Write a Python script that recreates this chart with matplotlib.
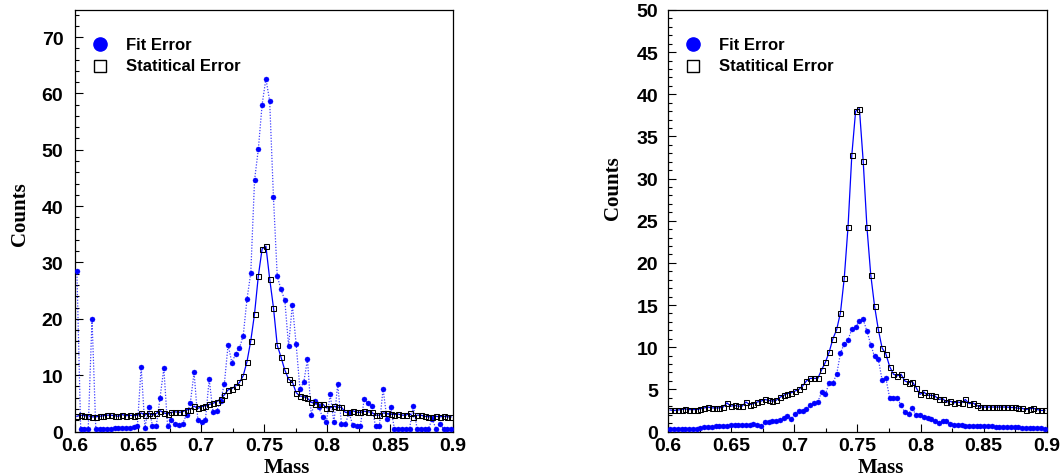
import numpy as np
import matplotlib
matplotlib.use("Agg")
import matplotlib.pyplot as plt
from matplotlib.ticker import MultipleLocator

# ---- data ----
mass_min, mass_max, n_bins = 0.6, 0.9, 100

left_fit = [28.5, 0.5, 0.5, 0.5, 20.0, 0.5, 0.5, 0.5, 0.5, 0.5,
            0.6, 0.6, 0.6, 0.7, 0.7, 0.8, 0.9, 11.5, 0.7, 4.3,
            1.0, 1.0, 6.0, 11.2, 0.9, 2.0, 1.4, 1.1, 1.4, 3.0,
            5.0, 10.5, 2.0, 1.7, 2.0, 9.3, 3.5, 3.6, 5.5, 8.4,
            15.4, 12.2, 13.8, 14.8, 17.0, 23.5, 28.1, 44.6, 50.1, 58.0,
            62.6, 58.7, 41.6, 27.6, 25.2, 23.3, 15.2, 22.5, 15.5, 7.6,
            8.7, 12.8, 3.0, 5.4, 4.3, 2.5, 1.6, 6.6, 1.6, 8.4,
            1.3, 1.3, 3.3, 1.1, 1.0, 1.0, 5.7, 5.0, 4.6, 0.9,
            0.9, 7.6, 2.3, 4.3, 0.5, 0.5, 0.5, 0.5, 0.5, 4.5,
            0.5, 0.5, 0.5, 0.5, 2.2, 0.5, 1.3, 0.5, 0.4, 0.4]

left_stat = [2.7, 2.9, 2.8, 2.8, 2.6, 2.6, 2.7, 2.8, 2.9, 2.9,
             2.8, 2.7, 3.0, 2.8, 2.9, 2.8, 2.9, 3.3, 2.9, 3.3,
             2.9, 3.2, 3.7, 3.3, 3.1, 3.4, 3.5, 3.4, 3.5, 3.9,
             3.9, 4.5, 4.1, 4.4, 4.6, 4.8, 5.0, 5.3, 5.8, 6.5,
             7.4, 7.6, 8.1, 8.7, 9.9, 12.4, 16.1, 20.9, 27.6, 32.4,
             32.9, 27.1, 22.0, 15.3, 13.2, 10.9, 9.3, 8.8, 6.9, 6.3,
             6.2, 5.9, 5.2, 4.9, 4.8, 4.9, 4.2, 4.2, 4.5, 4.3,
             4.3, 3.4, 3.4, 3.7, 3.4, 3.4, 3.6, 3.5, 3.4, 2.9,
             2.9, 3.3, 3.2, 3.1, 3.0, 3.1, 2.9, 2.9, 3.2, 2.6,
             2.9, 2.9, 2.7, 2.6, 2.6, 2.7, 2.6, 2.7, 2.6, 2.6]

right_fit = [0.3, 0.3, 0.35, 0.3, 0.35, 0.3, 0.3, 0.25, 0.45, 0.5,
             0.5, 0.55, 0.6, 0.65, 0.65, 0.7, 0.75, 0.75, 0.8, 0.8,
             0.8, 0.8, 0.85, 0.8, 0.65, 1.1, 1.1, 1.2, 1.3, 1.4,
             1.6, 1.8, 1.5, 2.1, 2.4, 2.4, 2.7, 3.1, 3.4, 3.5,
             4.65, 4.4, 5.75, 5.8, 6.8, 9.3, 10.4, 10.9, 12.1, 12.4,
             13.1, 13.3, 11.9, 10.3, 8.9, 8.6, 6.1, 6.3, 4.0, 4.0,
             4.0, 3.1, 2.3, 2.1, 2.75, 1.9, 1.9, 1.7, 1.6, 1.5,
             1.2, 1.0, 1.3, 1.2, 0.9, 0.8, 0.75, 0.75, 0.7, 0.7,
             0.7, 0.65, 0.65, 0.6, 0.6, 0.6, 0.55, 0.55, 0.55, 0.5,
             0.5, 0.5, 0.5, 0.45, 0.45, 0.45, 0.4, 0.4, 0.4, 0.35]

right_stat = [2.55, 2.5, 2.55, 2.6, 2.7, 2.6, 2.6, 2.6, 2.7, 2.8,
              2.9, 2.8, 2.8, 2.8, 2.9, 3.4, 3.0, 3.1, 3.0, 3.0,
              3.5, 3.2, 3.3, 3.5, 3.6, 3.8, 3.7, 3.6, 3.7, 4.05,
              4.3, 4.5, 4.6, 4.8, 5.0, 5.4, 6.0, 6.3, 6.3, 6.3,
              7.3, 8.2, 9.4, 11.0, 12.1, 14.1, 18.2, 24.3, 32.8, 38.0,
              38.3, 32.1, 24.2, 18.6, 14.9, 12.1, 9.9, 9.2, 7.7, 6.8,
              6.6, 6.8, 6.0, 5.8, 5.9, 5.2, 4.4, 4.7, 4.3, 4.3,
              4.2, 3.8, 3.9, 3.5, 3.6, 3.4, 3.5, 3.4, 3.8, 3.3,
              3.4, 3.1, 2.9, 2.9, 2.9, 2.9, 2.9, 2.9, 2.9, 2.9,
              2.85, 2.85, 2.75, 2.75, 2.6, 2.7, 2.75, 2.6, 2.5, 2.5]

left_yticks = [0, 10, 20, 30, 40, 50, 60, 70]
right_yticks = [0, 5, 10, 15, 20, 25, 30, 35, 40, 45, 50]
x_ticks = [0.6, 0.65, 0.7, 0.75, 0.8, 0.85, 0.9]
x_tick_labels = ["0.6", "0.65", "0.7", "0.75", "0.8", "0.85", "0.9"]
legend_labels = ["Fit Error", "Statitical Error"]
x_title = "Mass"
y_title = "Counts"

# ---- figure ----
W, H = 1060, 477
fig = plt.figure(figsize=(W / 100, H / 100), dpi=100)

edges = np.linspace(mass_min, mass_max, n_bins + 1)
centers = 0.5 * (edges[:-1] + edges[1:])

SANS = "Liberation Sans"
SERIF = "Liberation Serif"
BLUE = "#0000ff"


def fx(px):
    return px / W


def fy(py):
    return 1 - py / H


def make_panel(rect, fit, stat, ymax, yticks, ymajor, yminor, ypad,
               leg_x, ylab_x, ylab_y, xlab_x):
    ax = fig.add_axes(rect)
    ax.plot(centers, stat, color=BLUE, lw=0.9, zorder=2)
    ax.plot(centers, fit, color=BLUE, lw=0.9, ls=(0, (1, 1.3)),
            alpha=0.75, zorder=3)
    ax.plot(centers, fit, ls="none", marker="o", ms=3.6, mfc=BLUE,
            mec=BLUE, mew=0.3, zorder=4)
    ax.plot(centers, stat, ls="none", marker="s", ms=3.6, mfc="none",
            mec="black", mew=0.75, zorder=5)
    ax.set_xlim(mass_min, mass_max)
    ax.set_ylim(0, ymax)
    ax.set_xticks(x_ticks)
    ax.set_xticklabels(x_tick_labels)
    ax.set_yticks(yticks)
    ax.xaxis.set_minor_locator(MultipleLocator(0.025))
    ax.yaxis.set_minor_locator(MultipleLocator(yminor))
    ax.tick_params(which="both", direction="in", top=False, right=False)
    ax.tick_params(which="major", length=6, width=0.8)
    ax.tick_params(which="minor", length=3.2, width=0.8)
    ax.tick_params(axis="y", pad=ypad)
    ax.tick_params(axis="x", pad=4)
    for lab in ax.get_xticklabels() + ax.get_yticklabels():
        lab.set_fontfamily(SANS)
        lab.set_fontweight("bold")
        lab.set_fontsize(14)
    for s in ax.spines.values():
        s.set_linewidth(0.9)
        s.set_color("black")

    # legend (manual, ROOT-like)
    fig.lines.append(plt.Line2D([fx(leg_x)], [fy(45)], transform=fig.transFigure,
                                marker="o", ms=9.5, mfc=BLUE, mec=BLUE, ls="none"))
    fig.lines.append(plt.Line2D([fx(leg_x)], [fy(66.7)], transform=fig.transFigure,
                                marker="s", ms=9.0, mfc="white", mec="black",
                                mew=1.0, ls="none"))
    fig.text(fx(leg_x + 25.5), fy(45), legend_labels[0], family=SANS,
             weight="bold", fontsize=12, ha="left", va="center")
    fig.text(fx(leg_x + 25.5), fy(66.7), legend_labels[1], family=SANS,
             weight="bold", fontsize=12, ha="left", va="center")

    fig.text(fx(xlab_x), fy(473), x_title, family=SERIF, weight="bold",
             fontsize=15, ha="left", va="baseline")
    fig.text(fx(ylab_x), fy(ylab_y), y_title, family=SERIF, weight="bold",
             fontsize=15, ha="left", va="baseline", rotation=90,
             rotation_mode="anchor")
    return ax


bottom = fy(432.5)
height = (432.5 - 11) / H
make_panel([fx(75), bottom, 378 / W, height], left_fit, left_stat, 74.8,
           left_yticks, 10, 2, 8.4, 100, 25, 246, 264)
make_panel([fx(668.3), bottom, 378.4 / W, height], right_fit, right_stat, 50,
           right_yticks, 5, 1, 7.2, 693.3, 618, 220, 857.5)

fig.savefig("out.png", dpi=100)
